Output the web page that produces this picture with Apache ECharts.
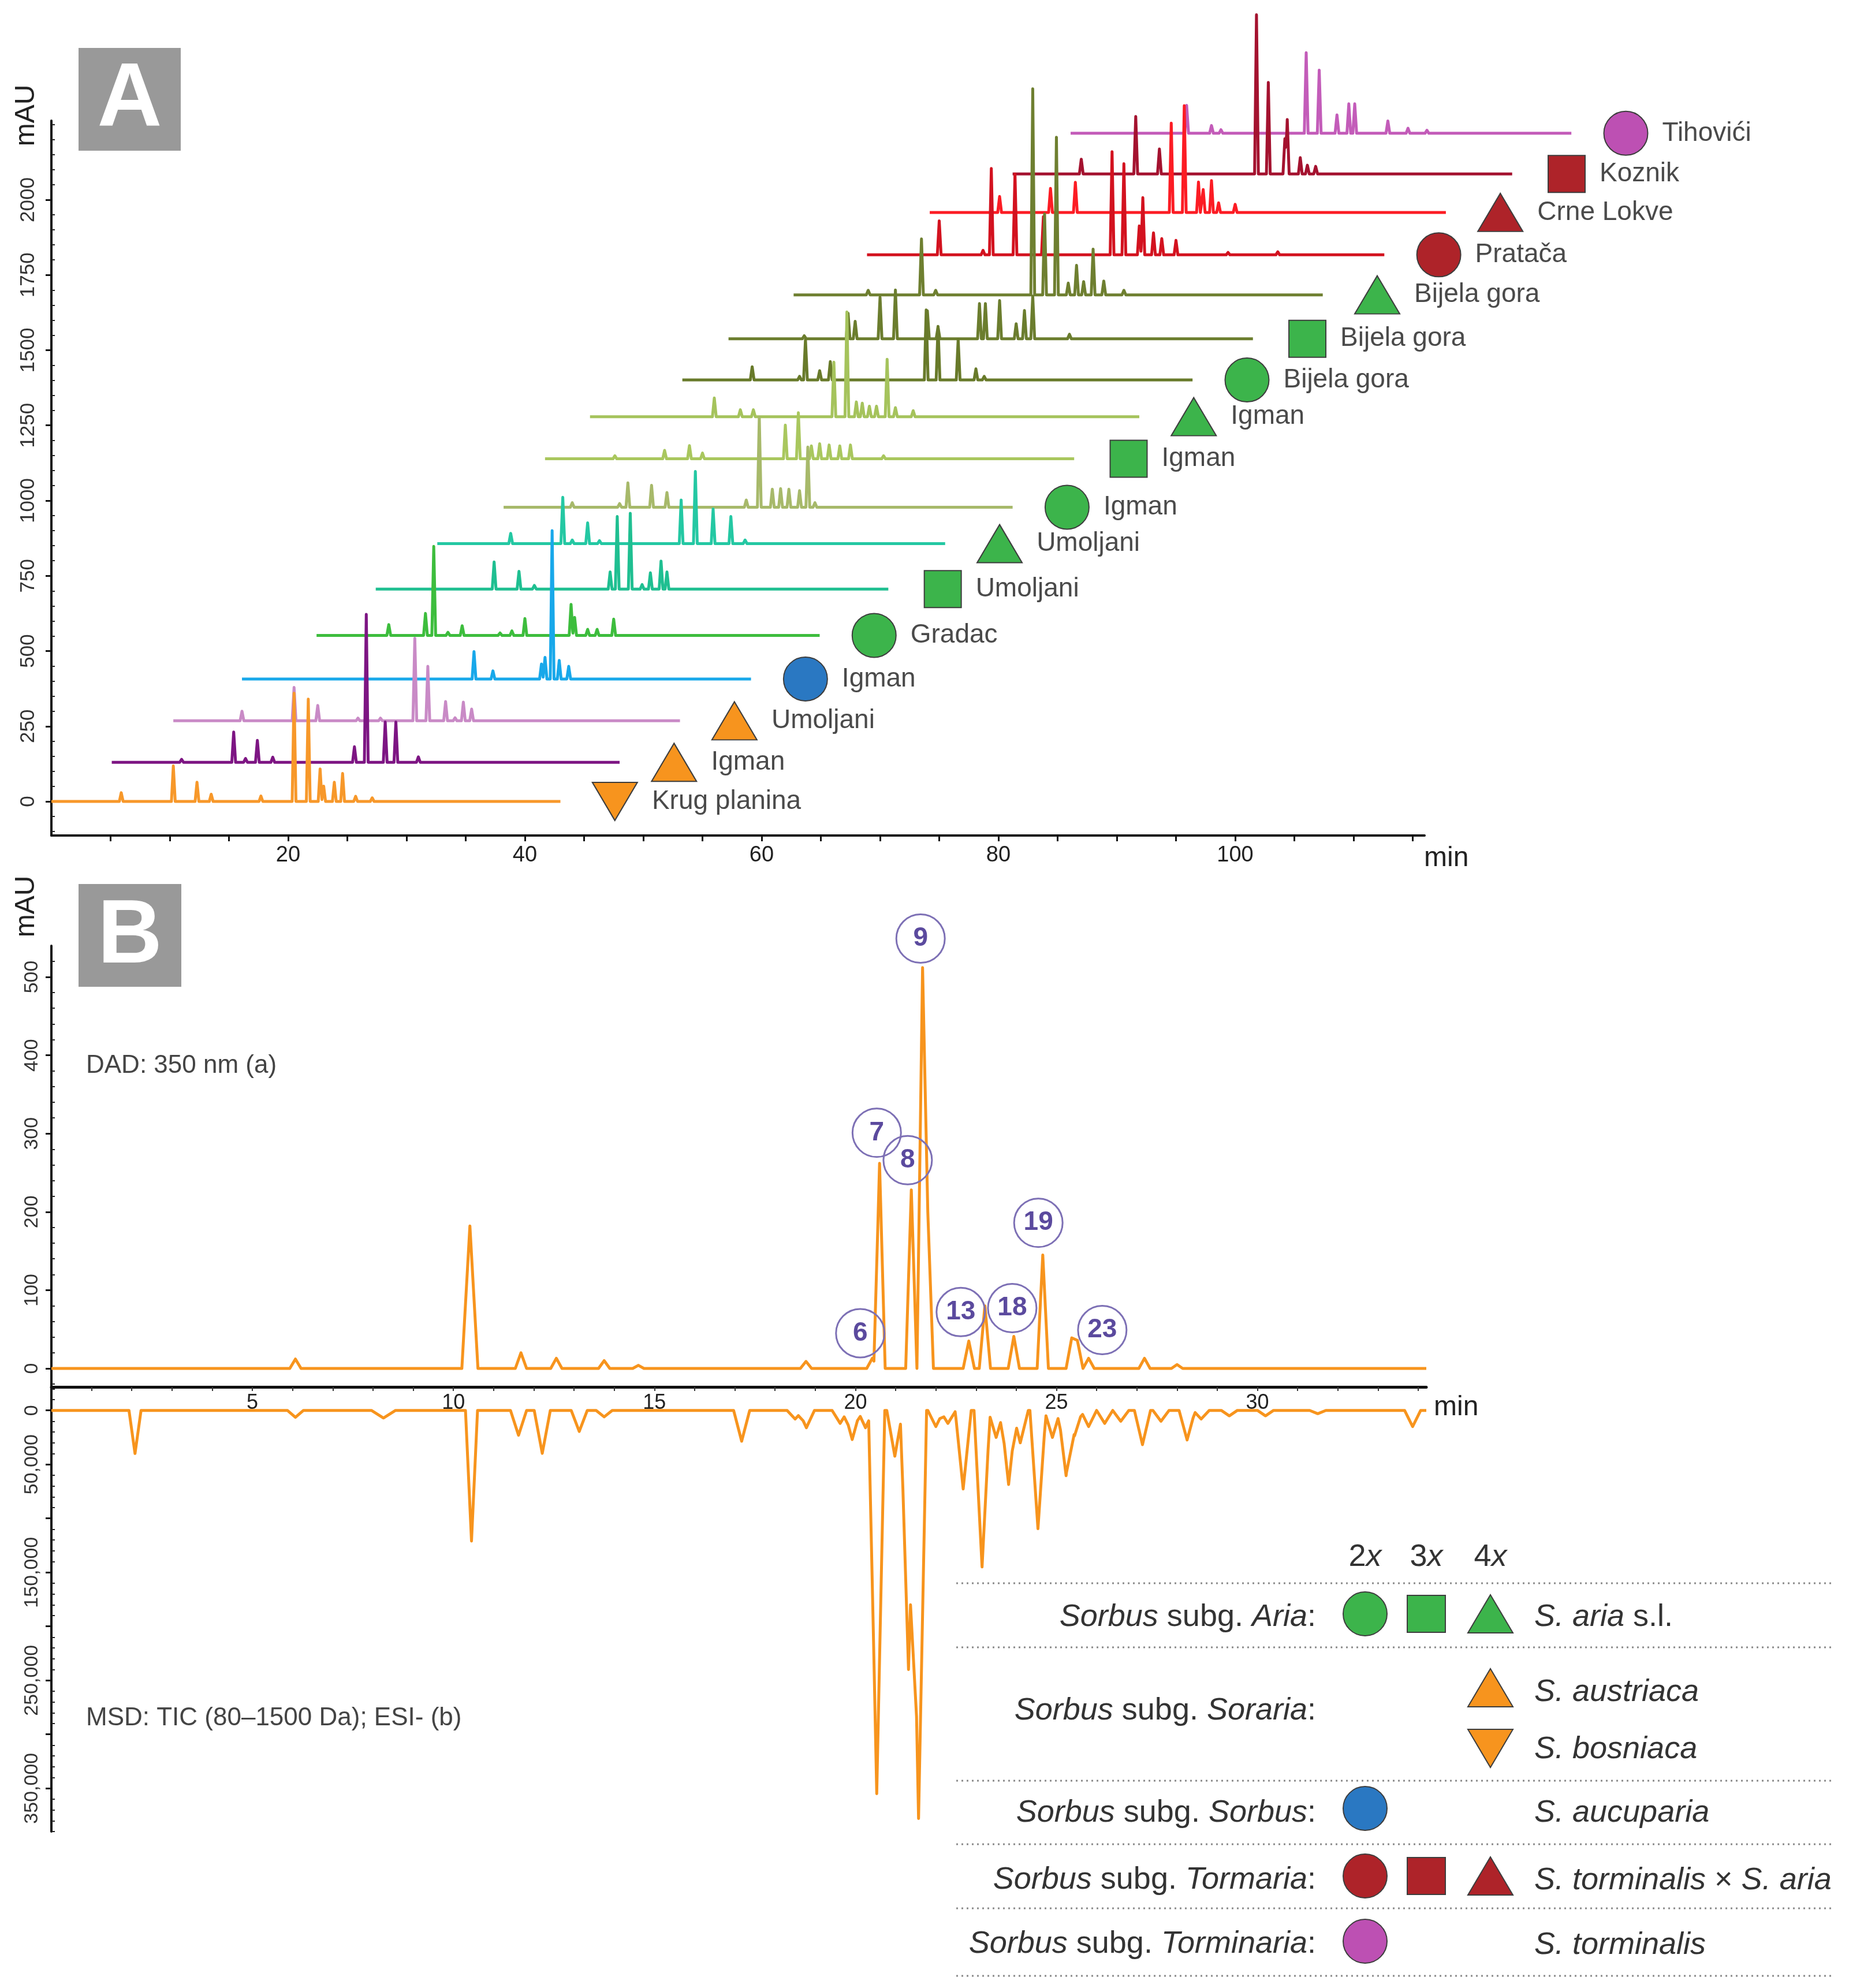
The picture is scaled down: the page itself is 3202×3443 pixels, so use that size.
<!DOCTYPE html>
<html><head><meta charset="utf-8">
<script src="https://cdn.jsdelivr.net/npm/echarts@6/dist/echarts.min.js"></script>
<style>html,body{margin:0;padding:0;background:#fff}#c{width:3202px;height:3443px}</style>
</head><body><div id="c"></div>
<script>
// ================= DATA =================
// Panel A: stacked HPLC-DAD chromatograms (waterfall)
const sampleSites = ['Krug planina','Igman','Umoljani','Igman','Gradac','Umoljani','Umoljani','Igman','Igman','Igman','Bijela gora','Bijela gora','Bijela gora','Pratača','Crne Lokve','Koznik','Tihovići'];
const sampleSymbols = ['down','triangle','triangle','circle','circle','rect','triangle','circle','rect','triangle','circle','rect','triangle','circle','triangle','rect','circle'];
const sampleTaxon = ['soraria','soraria','soraria','sorbus','aria','aria','aria','aria','aria','aria','aria','aria','aria','tormaria','tormaria','tormaria','torminaria'];
const traceColors = ['#f7982a','#7d1583','#c98ac6','#18a8ea','#3dbd3d','#1fbf91','#24c8a3','#a7b96a','#a9c75e','#a5c35c','#687a2a','#6b7d2e','#6e7f30','#d3121f','#fc1c24','#a4122f','#c35cb9'];
const traceStartMin = [0,5.1,10.3,16.1,22.4,27.4,32.6,38.2,41.7,45.5,53.3,57.2,62.7,68.9,74.2,81.2,86.1];
const traceEndMin   = [43.0,48.0,53.1,59.1,64.9,70.7,75.5,81.2,86.4,91.9,96.4,101.5,107.4,112.6,117.8,123.4,128.4];
const traceBaseMAU  = [0,130,268,407,552,706,857,978,1139,1279,1401,1538,1684,1817,1958,2086,2221];
// peaks: [retention time from trace start (min), height (mAU)]
const tracePeaks = [
  [[5.9,29],[10.3,118],[12.3,64],[13.5,24],[17.7,18],[20.5,360],[21.7,340],[22.7,108],[23.0,51],[23.9,64],[24.6,93],[25.7,17],[27.1,12]],
  [[5.9,10],[10.3,101],[11.3,13],[12.3,73],[13.6,17],[20.5,52],[21.5,492],[23.1,134],[24.0,134],[25.9,18]],
  [[5.8,32],[10.2,111],[12.2,51],[15.6,9],[17.5,9],[20.4,274],[21.5,181],[23.0,64],[23.8,10],[24.5,62],[25.2,39]],
  [[19.6,91],[21.2,27],[25.3,50],[25.6,72],[26.2,493],[26.8,62],[27.6,42]],
  [[6.1,36],[9.2,73],[9.9,296],[11.1,10],[12.3,32],[15.5,8],[16.5,15],[17.6,56],[21.5,103],[21.8,60],[22.9,20],[23.7,20],[25.1,54]],
  [[10.0,90],[12.1,59],[13.4,12],[19.8,57],[20.4,241],[21.5,252],[22.5,15],[23.2,54],[24.1,93],[24.6,57]],
  [[6.2,34],[10.6,154],[11.4,12],[12.7,69],[13.7,10],[20.6,145],[21.8,240],[23.3,115],[24.8,90],[26.0,12]],
  [[5.8,15],[9.8,12],[10.5,81],[12.5,73],[13.8,49],[20.5,24],[21.6,300],[22.7,60],[23.4,62],[24.1,60],[25.0,55],[25.7,200],[26.3,15]],
  [[5.9,10],[10.1,28],[12.2,44],[13.3,19],[20.3,112],[21.4,153],[22.5,43],[23.2,50],[24.0,46],[24.9,43],[25.8,46],[28.6,10]],
  [[10.5,62],[12.7,23],[13.8,23],[20.6,181],[21.7,348],[22.5,49],[23.0,45],[23.6,35],[24.2,35],[25.1,191],[25.8,30],[27.3,20]],
  [[5.9,44],[9.9,12],[10.4,135],[11.6,31],[12.5,61],[20.6,233],[21.6,178],[23.3,135],[24.8,37],[25.5,12]],
  [[6.4,10],[10.1,85],[10.7,58],[12.8,138],[14.1,162],[16.8,93],[17.7,39],[21.2,117],[21.7,117],[22.9,127],[24.3,50],[25.0,94],[25.7,142],[28.8,15]],
  [[6.3,15],[10.8,186],[12.0,15],[20.2,685],[21.2,269],[22.2,524],[23.2,39],[23.9,98],[24.5,44],[25.3,152],[26.2,46],[27.9,15]],
  [[6.1,113],[9.8,15],[10.5,287],[12.5,269],[14.9,127],[20.7,343],[21.7,303],[23.0,96],[23.3,190],[24.2,73],[24.9,54],[26.1,48],[30.5,8],[34.7,10]],
  [[5.9,53],[10.2,80],[12.3,100],[20.4,297],[21.5,355],[22.7,101],[23.1,76],[23.8,106],[24.4,32],[25.8,27]],
  [[5.8,49],[10.4,191],[12.4,83],[20.6,529],[21.6,304],[23.0,117],[23.2,181],[24.3,54],[24.9,29],[25.6,25]],
  [[9.8,93],[11.9,26],[12.7,12],[19.9,268],[21.0,210],[22.5,61],[23.5,98],[24.0,98],[26.8,41],[28.5,17],[30.1,10]]
];
const aYTicks = [0,250,500,750,1000,1250,1500,1750,2000];
const aXTicks = [20,40,60,80,100];

// Panel B: DAD 350 nm (a) and MSD TIC ESI- (b)
const dadPeaks = [[6.07,12],[10.41,182,0.2],[11.68,20],[12.56,13],[13.75,10],[14.6,4],[18.77,9],[20.42,13],[20.6,262],[21.39,228],[21.67,512],[21.8,200],[22.82,35],[23.22,80],[23.94,41],[24.66,145],[25.38,39],[25.52,36],[25.8,13],[27.19,13],[28.0,5]];
const msdPeaks = [[2.08,39900,0.15],[6.07,6400],[8.26,7000,0.3],[10.45,121000,0.15],[11.62,23000],[12.21,39800],[13.13,19500],[13.75,6000],[17.17,28500],[18.5,8000],[18.78,16000],[19.62,12000],[19.92,27000],[20.25,16000],[20.53,355000],[20.98,42400],[21.32,240000],[21.57,378000],[22.0,15000],[22.3,12000],[22.68,72700],[23.15,145000],[23.5,25000],[23.81,68600],[24.1,30000],[24.54,109500],[24.9,25000],[25.24,60400],[25.45,23500],[25.8,15000],[26.2,12000],[26.6,10000],[27.14,31700],[27.6,10000],[28.25,27400],[28.6,8000],[29.3,5000],[30.2,5000],[31.5,3000],[33.86,15000]];
const peakLabelNames = ['6','7','8','9','13','18','19','23'];
const peakLabelMin   = [20.12,20.53,21.30,21.62,22.62,23.90,24.55,26.14];
const peakLabelMAU   = [45,301,266,549,72,77,186,49];
const bXTicks = [5,10,15,20,25,30];
const bDadTicks = [0,100,200,300,400,500];
const bMsdTicks = [0,50000,150000,250000,350000];

// Legend
const legendPloidy = ['2','3','4'];
const legendSubgenera = ['Aria','Soraria','Sorbus','Tormaria','Torminaria'];
const legendSpecies = [['{i|S. aria} s.l.'],['{i|S. austriaca}','{i|S. bosniaca}'],['{i|S. aucuparia}'],['{i|S. torminalis} × {i|S. aria}'],['{i|S. torminalis}']];

// ================= LAYOUT / STYLE =================
const SANS = '"Liberation Sans", Arial, sans-serif';
const taxonColor = {aria:'#3cb44b', soraria:'#f7941e', sorbus:'#2a78c2', tormaria:'#ae2329', torminaria:'#bd50b3'};
const AX = {left:89, top:209, bottom:1447, zeroY:1388, pxMin:20.5, pxMAU:0.521};
const aYMin = -(AX.bottom-AX.zeroY)/AX.pxMAU;
const aYMaxAxis = (AX.zeroY-AX.top)/AX.pxMAU;
const aYMaxData = AX.zeroY/AX.pxMAU;
const aXMaxAxis = 116, aXMaxData = 140;
const BX = {left:89, dadTop:1638, mid:2402, msdBottom:3172, zeroDad:2370, pxMAU:1.356, zeroMsd:2442.7, pxCount:0.00187, xMax:34.2, right:2470};
const bDadMin = -(BX.mid-BX.zeroDad)/BX.pxMAU;
const bDadMax = (BX.zeroDad-BX.dadTop)/BX.pxMAU;
const bMsdMin = -(BX.zeroMsd-BX.mid)/BX.pxCount;
const bMsdMax = bMsdMin + (BX.msdBottom-BX.mid)/BX.pxCount;

function buildTrace(startMin, lengthMin, baseline, peaks, defHW) {
  const xs = [0, lengthMin];
  peaks.forEach(p => { const hw = p[2] || defHW; xs.push(p[0]-hw, p[0], p[0]+hw); });
  const uniq = Array.from(new Set(xs.filter(x => x >= 0 && x <= lengthMin).map(x => Math.round(x*10000)/10000))).sort((a,b)=>a-b);
  return uniq.map(x => {
    let y = 0;
    peaks.forEach(p => { const hw = p[2] || defHW; const d = Math.abs(x-p[0]); if (d < hw) y = Math.max(y, p[1]*(1-d/hw)); });
    return [startMin + x, baseline + y];
  });
}
function range(a, b, step, skip) { const r = []; for (let v = a; v <= b + 1e-9; v += step) { v = Math.round(v*1000)/1000; if (!skip || skip.indexOf(v) < 0) r.push(v); } return r; }

const chart = echarts.init(document.getElementById('c'), null, {width:3202, height:3443});

const series = [];
for (let i = sampleSites.length - 1; i >= 0; i--) {
  series.push({type:'line', xAxisIndex:1, yAxisIndex:1, silent:true, showSymbol:false, symbol:'none', clip:false, z:2,
    data: buildTrace(traceStartMin[i], traceEndMin[i]-traceStartMin[i], traceBaseMAU[i], tracePeaks[i], 0.16),
    lineStyle:{color:traceColors[i], width:5, join:'round'}});
}
const symMap = {circle:['circle',76,0], rect:['rect',[64,64],0], triangle:['triangle',[78,66],0], down:['triangle',[78,66],180]};
series.push({type:'scatter', xAxisIndex:1, yAxisIndex:1, silent:true, clip:false, z:3,
  data: sampleSites.map((s,i) => {
    const m = symMap[sampleSymbols[i]];
    return {value:[traceEndMin[i]+4.6, traceBaseMAU[i]], name:s, symbol:m[0], symbolSize:m[1], symbolRotate:m[2],
      itemStyle:{color:taxonColor[sampleTaxon[i]], borderColor:'#3d3d3d', borderWidth:2, opacity:1},
      label:{show:true, position:'right', distance:24, formatter:s, fontSize:46, fontFamily:SANS, color:'#4a4a4a', opacity:1}};
  })});
series.push({type:'line', xAxisIndex:2, yAxisIndex:2, silent:true, showSymbol:false, symbol:'none', clip:false,
  data: buildTrace(0, BX.xMax, 0, dadPeaks, 0.14), lineStyle:{color:'#f7941d', width:5, join:'round'}});
series.push({type:'line', xAxisIndex:3, yAxisIndex:3, silent:true, showSymbol:false, symbol:'none', clip:false,
  data: buildTrace(0, BX.xMax, 0, msdPeaks, 0.2), lineStyle:{color:'#f7941d', width:5, join:'round'}});
series.push({type:'scatter', xAxisIndex:2, yAxisIndex:2, silent:true, clip:false, z:5, symbol:'circle', symbolSize:84,
  data: peakLabelNames.map((n,i) => ({value:[peakLabelMin[i], peakLabelMAU[i]], name:n})),
  itemStyle:{color:'rgba(255,255,255,0)', borderColor:'#7d70b5', borderWidth:3, opacity:1},
  label:{show:true, position:'inside', formatter:p => p.name, fontSize:46, fontWeight:'bold', fontFamily:SANS, color:'#5b4a9e'}});

const axisLineStyle = {color:'#111', width:4};
const tickStyle = {color:'#111', width:3};
const noSplit = {show:false};
const option = {
  animation:false,
  backgroundColor:'#fff',
  grid:[
    {left:AX.left, top:AX.top, width:aXMaxAxis*AX.pxMin, height:AX.bottom-AX.top},
    {left:AX.left, top:0, width:aXMaxData*AX.pxMin, height:AX.bottom},
    {left:BX.left, top:BX.dadTop, width:BX.right-BX.left, height:BX.mid-BX.dadTop},
    {left:BX.left, top:BX.mid, width:BX.right-BX.left, height:BX.msdBottom-BX.mid}
  ],
  xAxis:[
    {gridIndex:0, type:'value', min:0, max:aXMaxAxis, splitLine:noSplit,
      axisLine:{show:true, onZero:false, lineStyle:axisLineStyle},
      axisTick:{show:true, customValues:range(5,115,5), length:10, lineStyle:tickStyle},
      axisLabel:{show:true, customValues:aXTicks, formatter:v=>String(v), margin:16, fontSize:38, fontFamily:SANS, color:'#222'}},
    {gridIndex:1, type:'value', min:0, max:aXMaxData, show:false},
    {gridIndex:2, type:'value', min:0, max:BX.xMax, position:'bottom', splitLine:noSplit,
      axisLine:{show:true, onZero:false, lineStyle:{color:'#111', width:5}},
      axisTick:{show:true, customValues:range(1,34,1), length:7, lineStyle:{color:'#333', width:2}},
      axisLabel:{show:true, customValues:bXTicks, formatter:v=>String(v), margin:10, fontSize:36, fontFamily:SANS, color:'#222'}},
    {gridIndex:3, type:'value', min:0, max:BX.xMax, show:false}
  ],
  yAxis:[
    {gridIndex:0, type:'value', min:aYMin, max:aYMaxAxis, splitLine:noSplit,
      axisLine:{show:true, onZero:false, lineStyle:axisLineStyle},
      axisTick:{show:true, customValues:aYTicks, length:10, lineStyle:tickStyle},
      axisLabel:{show:true, customValues:aYTicks, formatter:v=>String(v), rotate:90, margin:22, fontSize:35, fontFamily:SANS, color:'#333'}},
    {gridIndex:1, type:'value', min:aYMin, max:aYMaxData, show:false},
    {gridIndex:2, type:'value', min:bDadMin, max:bDadMax, splitLine:noSplit,
      axisLine:{show:true, onZero:false, lineStyle:axisLineStyle},
      axisTick:{show:true, customValues:bDadTicks, length:10, lineStyle:tickStyle},
      axisLabel:{show:true, customValues:bDadTicks, formatter:v=>String(v), rotate:90, margin:16, fontSize:34, fontFamily:SANS, color:'#333'}},
    {gridIndex:3, type:'value', inverse:true, min:bMsdMin, max:bMsdMax, splitLine:noSplit,
      axisLine:{show:true, onZero:false, lineStyle:axisLineStyle},
      axisTick:{show:true, customValues:range(0,350000,50000), length:10, lineStyle:tickStyle},
      axisLabel:{show:true, customValues:bMsdTicks, formatter:v=>v.toLocaleString('en-US'), rotate:90, margin:16, fontSize:34, fontFamily:SANS, color:'#333'}},
    {gridIndex:0, type:'value', min:aYMin, max:aYMaxAxis, splitLine:noSplit, axisLine:{show:false}, axisLabel:{show:false},
      axisTick:{show:true, customValues:range(-100,2250,50,aYTicks), length:6, lineStyle:{color:'#222', width:2}}},
    {gridIndex:2, type:'value', min:bDadMin, max:bDadMax, splitLine:noSplit, axisLine:{show:false}, axisLabel:{show:false},
      axisTick:{show:true, customValues:range(-20,530,20,bDadTicks), length:6, lineStyle:{color:'#222', width:2}}},
    {gridIndex:3, type:'value', inverse:true, min:bMsdMin, max:bMsdMax, splitLine:noSplit, axisLine:{show:false}, axisLabel:{show:false},
      axisTick:{show:true, customValues:range(-20000,390000,10000,range(0,350000,50000)), length:6, lineStyle:{color:'#222', width:2}}}
  ],
  series: series,
  graphic: buildGraphic()
};

function txt(x, y, text, o) {
  return Object.assign({type:'text', x:x, y:y, silent:true, z:10,
    style:Object.assign({text:text, fontFamily:SANS, fontSize:46, fill:'#3c3c3c', align:'left', verticalAlign:'middle'}, o && o.style)},
    o && o.rot ? {rotation:o.rot} : {});
}
function marker(kind, color, cx, cy) {
  const st = {fill:color, stroke:'#3d3d3d', lineWidth:2};
  if (kind === 'circle') return {type:'circle', silent:true, shape:{cx:cx, cy:cy, r:38}, style:st};
  if (kind === 'rect') return {type:'rect', silent:true, shape:{x:cx-33, y:cy-32, width:66, height:64}, style:st};
  if (kind === 'triangle') return {type:'polygon', silent:true, shape:{points:[[cx,cy-33],[cx+39,cy+33],[cx-39,cy+33]]}, style:st};
  return {type:'polygon', silent:true, shape:{points:[[cx-39,cy-33],[cx+39,cy-33],[cx,cy+33]]}, style:st};
}
function buildGraphic() {
  const g = [];
  // panel letters
  g.push({type:'rect', silent:true, shape:{x:136, y:83, width:177, height:178}, style:{fill:'#999999'}});
  g.push(txt(224.5, 174, 'A', {style:{fill:'#fff', fontSize:155, fontWeight:'bold', align:'center'}}));
  g.push({type:'rect', silent:true, shape:{x:136, y:1531, width:178, height:178}, style:{fill:'#999999'}});
  g.push(txt(225, 1624, 'B', {style:{fill:'#fff', fontSize:155, fontWeight:'bold', align:'center'}}));
  // axis names
  g.push(txt(46, 200, 'mAU', {rot:Math.PI/2, style:{fontSize:48, fill:'#222', align:'center'}}));
  g.push(txt(46, 1570, 'mAU', {rot:Math.PI/2, style:{fontSize:48, fill:'#222', align:'center'}}));
  g.push(txt(2466, 1487, 'min', {style:{fontSize:48, fill:'#222'}}));
  g.push(txt(2483, 2438, 'min', {style:{fontSize:48, fill:'#222'}}));
  // detector notes
  g.push(txt(149, 1846, 'DAD: 350 nm (a)', {style:{fontSize:44, fill:'#444'}}));
  g.push(txt(149, 2976, 'MSD: TIC (80–1500 Da); ESI- (b)', {style:{fontSize:44, fill:'#444'}}));
  // legend
  const LF = 54, rich = {i:{fontStyle:'italic', fontSize:LF, fontFamily:SANS, fill:'#333'}};
  const colX = [2364, 2470, 2581];
  legendPloidy.forEach((p,k) => g.push(txt(colX[k], 2697, p + '{i|x}', {style:{fontSize:LF, fill:'#333', align:'center', rich:rich}})));
  [2742, 2853, 3084, 3194, 3305, 3422].forEach(y => g.push({type:'line', silent:true, shape:{x1:1656, y1:y, x2:3172, y2:y}, style:{stroke:'#8a8a8a', lineWidth:3, lineDash:[3,6]}}));
  const groupY = [2801, 2963, 3140, 3256, 3367];
  legendSubgenera.forEach((s,k) => g.push(txt(2279, groupY[k], '{i|Sorbus} subg. {i|' + s + '}:', {style:{fontSize:LF, fill:'#333', align:'right', rich:rich}})));
  const speciesY = [[2801],[2931,3030],[3140],[3257],[3369]];
  legendSpecies.forEach((arr,k) => arr.forEach((s,j) => g.push(txt(2657, speciesY[k][j], s, {style:{fontSize:LF, fill:'#333', rich:rich}}))));
  // legend markers
  g.push(marker('circle', taxonColor.aria, colX[0], 2795), marker('rect', taxonColor.aria, colX[1], 2795), marker('triangle', taxonColor.aria, colX[2], 2795));
  g.push(marker('triangle', taxonColor.soraria, colX[2], 2923), marker('down', taxonColor.soraria, colX[2], 3028));
  g.push(marker('circle', taxonColor.sorbus, colX[0], 3132));
  g.push(marker('circle', taxonColor.tormaria, colX[0], 3249), marker('rect', taxonColor.tormaria, colX[1], 3249), marker('triangle', taxonColor.tormaria, colX[2], 3249));
  g.push(marker('circle', taxonColor.torminaria, colX[0], 3362));
  return g;
}

chart.setOption(option);
</script>
</body></html>
